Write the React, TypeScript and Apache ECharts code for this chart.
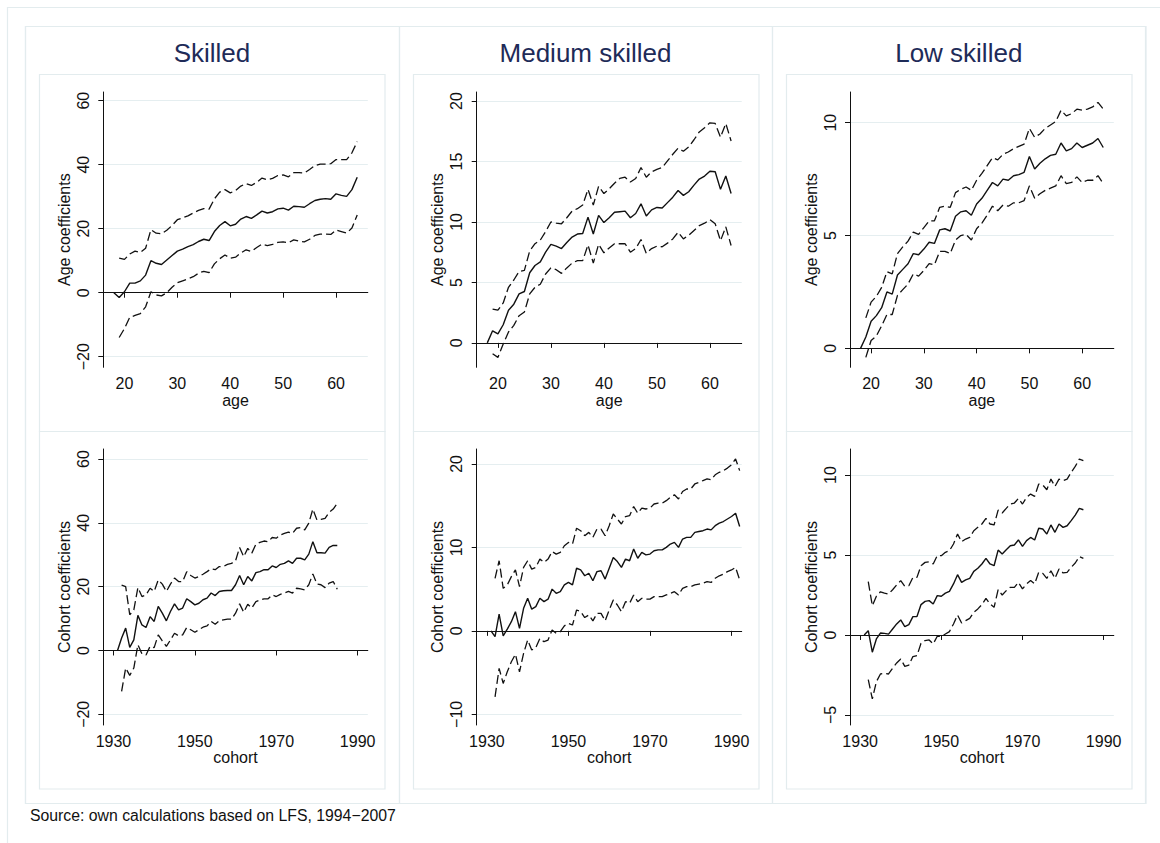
import React, { useEffect, useRef } from "react";
import * as echarts from "echarts";

// ---------- x values ----------
const AGES = [18, 19, 20, 21, 22, 23, 24, 25, 26, 27, 28, 29, 30, 31, 32, 33, 34, 35, 36, 37, 38, 39, 40, 41, 42, 43, 44, 45, 46, 47, 48, 49, 50, 51, 52, 53, 54, 55, 56, 57, 58, 59, 60, 61, 62, 63, 64];
const COHORTS = [1931, 1932, 1933, 1934, 1935, 1936, 1937, 1938, 1939, 1940, 1941, 1942, 1943, 1944, 1945, 1946, 1947, 1948, 1949, 1950, 1951, 1952, 1953, 1954, 1955, 1956, 1957, 1958, 1959, 1960, 1961, 1962, 1963, 1964, 1965, 1966, 1967, 1968, 1969, 1970, 1971, 1972, 1973, 1974, 1975, 1976, 1977, 1978, 1979, 1980, 1981, 1982, 1983, 1984, 1985, 1986, 1987, 1988, 1989, 1990, 1991, 1992];

// ---------- tick labels ----------
const AGE_TICKS = [20, 30, 40, 50, 60];
const COHORT_TICKS = [1930, 1950, 1970, 1990];
const SK_AGE_YTICKS = [-20, 0, 20, 40, 60];
const MD_AGE_YTICKS = [0, 5, 10, 15, 20];
const LW_AGE_YTICKS = [0, 5, 10];
const SK_COH_YTICKS = [-20, 0, 20, 40, 60];
const MD_COH_YTICKS = [-10, 0, 10, 20];
const LW_COH_YTICKS = [-5, 0, 5, 10];

// ---------- titles ----------
const COLUMN_TITLES = ["Skilled", "Medium skilled", "Low skilled"];
const SOURCE_NOTE = "Source: own calculations based on LFS, 1994\u22122007";

// ---------- Skilled, age (18..64); CI bands start at 19 ----------
const SK_AGE = [0, -1.5, 0.3, 3, 3, 3.7, 5.5, 10, 9.2, 8.8, 10.2, 11.6, 13, 13.6, 14.4, 15, 16, 16.7, 16.3, 19.1, 21, 22.2, 20.9, 21.4, 23, 23.8, 23.2, 24.3, 25.5, 24.9, 25.3, 26.2, 26.4, 25.8, 27, 26.9, 26.7, 27.8, 28.8, 29.2, 29.4, 29.2, 30.9, 30.4, 30.1, 32.2, 36.1];
const SK_AGE_HI = [10.8, 10.4, 12.1, 13, 12.6, 13.9, 19.7, 18.6, 18.4, 19.5, 21, 22.8, 23.4, 24, 24.9, 25.7, 26.3, 26.1, 29.3, 31.4, 32.2, 31.2, 31.9, 33.3, 34.1, 33.5, 34.5, 35.8, 35.3, 35.7, 36.6, 36.8, 36.2, 37.5, 37.5, 37.4, 38.5, 39.7, 40.2, 40.2, 40.3, 41.6, 41.6, 41.6, 43.7, 47.2];
const SK_AGE_LO = [-14, -11.2, -7.7, -7.1, -6.5, -4.4, 0.3, -0.7, -1, 0, 1.7, 3.1, 3.7, 4.3, 5, 6.1, 6.7, 6.3, 9, 10.6, 11.8, 10.8, 11.1, 12.4, 13.4, 12.9, 14.1, 15.2, 14.7, 15.1, 15.7, 15.9, 15.6, 16.5, 16.1, 15.9, 16.7, 17.9, 18.3, 18.3, 18.2, 19.6, 19.1, 18.6, 20.2, 24.3];

// ---------- Medium skilled, age ----------
const MD_AGE = [0, 1.0, 0.75, 1.5, 2.7, 3.2, 4.05, 4.25, 5.8, 6.4, 6.7, 7.5, 8.15, 8.0, 7.8, 8.3, 8.75, 9.0, 9.05, 10.4, 9.0, 10.55, 9.95, 10.35, 10.8, 10.85, 10.9, 10.35, 10.7, 11.5, 10.5, 11.0, 11.2, 11.15, 11.6, 12.05, 12.6, 12.2, 12.5, 13.05, 13.55, 13.8, 14.2, 14.15, 12.7, 13.8, 12.35];
const MD_AGE_HI = [2.8, 2.7, 3.3, 4.6, 5.2, 5.9, 6.0, 7.6, 8.2, 8.5, 9.2, 10.0, 9.9, 9.85, 10.35, 10.9, 11.1, 11.4, 12.7, 11.4, 12.95, 12.35, 12.75, 13.2, 13.6, 13.7, 13.3, 13.6, 14.5, 13.7, 14.15, 14.35, 14.5, 15.05, 15.6, 16.1, 15.85, 16.2, 16.8, 17.45, 17.8, 18.2, 18.15, 17.0, 18.15, 16.7];
const MD_AGE_LO = [-0.9, -1.2, -0.1, 0.9, 1.45, 2.25, 2.55, 4.05, 4.6, 4.85, 5.7, 6.2, 6.05, 5.75, 6.2, 6.6, 6.8, 6.8, 8.1, 6.6, 8.15, 7.45, 7.85, 8.2, 8.2, 8.2, 7.5, 7.8, 8.55, 7.4, 7.8, 8.0, 7.95, 8.25, 8.6, 9.15, 8.6, 8.9, 9.3, 9.7, 9.9, 10.2, 9.85, 8.45, 9.6, 8.05];

// ---------- Low skilled, age ----------
const LW_AGE = [0, 0.5, 1.2, 1.45, 1.8, 2.5, 2.4, 3.25, 3.5, 3.75, 4.2, 4.15, 4.4, 4.7, 4.65, 5.25, 5.3, 5.2, 5.85, 6.05, 6.1, 5.9, 6.4, 6.65, 7.0, 7.35, 7.2, 7.5, 7.45, 7.65, 7.7, 7.8, 8.5, 7.95, 8.2, 8.4, 8.55, 8.6, 9.1, 8.75, 8.85, 9.1, 8.9, 9.0, 9.1, 9.3, 8.9];
const LW_AGE_HI = [1.35, 2.05, 2.3, 2.7, 3.4, 3.3, 4.2, 4.5, 4.75, 5.15, 5.05, 5.35, 5.65, 5.65, 6.25, 6.3, 6.25, 6.9, 7.05, 7.15, 7.0, 7.45, 7.75, 8.1, 8.45, 8.35, 8.6, 8.7, 8.85, 8.95, 9.05, 9.75, 9.35, 9.5, 9.75, 9.9, 10.05, 10.55, 10.3, 10.4, 10.6, 10.55, 10.6, 10.7, 10.9, 10.6];
const LW_AGE_LO = [-0.4, 0.35, 0.55, 1.0, 1.5, 1.5, 2.35, 2.6, 2.85, 3.3, 3.2, 3.45, 3.75, 3.7, 4.3, 4.3, 4.2, 4.8, 5.0, 5.05, 4.8, 5.3, 5.55, 5.9, 6.3, 6.1, 6.35, 6.3, 6.45, 6.45, 6.55, 7.2, 6.65, 6.85, 7.0, 7.1, 7.2, 7.65, 7.3, 7.35, 7.6, 7.35, 7.45, 7.45, 7.65, 7.3];

// ---------- Skilled, cohort (1931..1985); CI bands start at 1932 ----------
const SK_COH = [0, 3.9, 7, 1, 3.3, 11, 8, 7.2, 10.6, 9.1, 13.8, 11.7, 9.3, 12.2, 14.6, 12.7, 13.3, 16.2, 15.3, 14.3, 14.8, 15.9, 16.4, 18, 17.2, 18.5, 18.7, 18.8, 18.8, 20.6, 23.5, 20.6, 23.2, 21.8, 24.4, 24.7, 25.3, 25.3, 26.5, 26, 27, 27.3, 28.1, 27.3, 28.9, 28.9, 28.4, 30.2, 34.1, 30.6, 30.6, 30.5, 32.3, 32.9, 32.9];
const SK_COH_HI = [20.5, 20, 11.2, 12.7, 19.7, 16.9, 17.4, 19.5, 18.5, 22.1, 20.8, 18.5, 20.8, 22.7, 21.6, 21.6, 24.7, 23.5, 22.7, 23.2, 23.9, 24.7, 25.6, 25.3, 26.3, 26.3, 27, 27.3, 28.1, 32.3, 29.4, 32, 30.5, 33.3, 33.9, 34.3, 34.1, 35.4, 35.2, 36.2, 36.7, 37.1, 36.7, 38.3, 38.5, 37.8, 39.9, 44.3, 40.9, 41.1, 41.4, 43.3, 44.3, 46.1];
const SK_COH_LO = [-12.8, -5.5, -7.8, -5.5, 1.8, -1.1, -1.4, 1.3, 0.9, 4.9, 3, 1.3, 3.3, 5.4, 4.6, 4.9, 7.2, 6.5, 5.7, 6.5, 7.3, 7.7, 9.1, 8.2, 9.3, 9.6, 9.8, 9.8, 11.7, 14.6, 12, 14.5, 13.3, 15.3, 15.8, 16.2, 16.2, 17.4, 16.9, 17.6, 18, 18.5, 18, 19.5, 19.3, 19, 20.6, 24, 20.8, 20.6, 19.7, 21.1, 21.6, 19.2];

// ---------- Medium skilled, cohort (1931..1992) ----------
const MD_COH = [0, -0.7, 2.0, -0.6, 0.2, 1.1, 2.3, 0.3, 2.7, 3.9, 2.6, 2.9, 3.9, 3.5, 3.8, 5.0, 4.5, 4.7, 5.5, 5.8, 5.5, 7.5, 7.3, 6.6, 6.9, 6.0, 7.1, 7.2, 6.2, 7.5, 8.8, 8.3, 7.6, 8.6, 8.4, 9.8, 8.7, 9.4, 9.1, 9.2, 9.6, 9.7, 9.7, 10.0, 10.4, 10.6, 10.0, 11.0, 11.2, 11.2, 11.8, 11.9, 12.0, 12.2, 12.1, 12.6, 12.9, 13.1, 13.4, 13.7, 14.1, 12.5];
const MD_COH_HI = [6.3, 8.4, 5.1, 5.5, 6.5, 7.3, 5.3, 7.6, 8.4, 7.4, 7.6, 8.6, 8.2, 8.6, 9.5, 9.2, 9.4, 10.2, 10.6, 10.4, 12.3, 12.0, 11.4, 11.8, 11.2, 12.2, 12.2, 11.4, 12.6, 14.0, 13.4, 12.8, 13.7, 13.8, 14.9, 14.1, 14.7, 14.6, 14.7, 15.2, 15.3, 15.3, 15.6, 16.0, 16.3, 15.8, 16.7, 17.0, 17.0, 17.6, 17.8, 18.0, 18.2, 18.1, 18.7, 19.0, 19.2, 19.5, 19.9, 20.6, 19.2];
const MD_COH_LO = [-7.9, -4.5, -6.3, -4.9, -3.7, -2.8, -4.9, -2.7, -1.1, -2.3, -2.0, -0.9, -1.3, -1.1, 0.1, -0.3, -0.1, 0.6, 0.9, 0.7, 2.5, 2.3, 1.6, 1.9, 1.2, 2.1, 2.1, 1.2, 2.5, 3.7, 3.1, 2.3, 3.5, 3.3, 4.3, 3.5, 3.9, 3.8, 3.8, 4.1, 4.1, 4.1, 4.3, 4.5, 4.7, 4.3, 5.1, 5.3, 5.3, 5.5, 5.6, 5.7, 5.9, 5.8, 6.3, 6.6, 6.8, 7.1, 7.3, 7.6, 6.1];

// ---------- Low skilled, cohort (1931..1985) ----------
const LW_COH = [0, 0.27, -1.08, -0.25, 0.12, 0.1, 0.05, 0.37, 0.69, 0.94, 0.52, 0.65, 1.15, 1.15, 1.9, 2.1, 2.15, 1.94, 2.46, 2.42, 2.62, 2.73, 3.19, 3.77, 3.29, 3.44, 3.54, 3.98, 4.17, 4.44, 4.79, 4.44, 4.33, 5.31, 5.06, 5.33, 5.58, 5.63, 5.94, 5.54, 5.9, 6.1, 5.94, 6.67, 6.63, 6.31, 6.88, 6.42, 6.94, 6.73, 6.83, 7.15, 7.5, 7.92, 7.83];
const LW_COH_HI = [3.33, 1.83, 2.42, 2.7, 2.62, 2.56, 2.83, 3.13, 3.4, 3.04, 3.08, 3.6, 3.6, 4.33, 4.54, 4.58, 4.44, 4.96, 4.96, 5.17, 5.27, 5.69, 6.31, 5.83, 6.0, 6.1, 6.52, 6.73, 6.94, 7.29, 6.94, 6.88, 7.81, 7.63, 7.92, 8.19, 8.25, 8.54, 8.19, 8.6, 8.81, 8.67, 9.44, 9.38, 9.08, 9.75, 9.29, 9.75, 9.65, 9.75, 10.17, 10.54, 11.0, 10.9];
const LW_COH_LO = [-2.79, -4.0, -2.92, -2.44, -2.4, -2.44, -2.08, -1.75, -1.5, -1.96, -1.88, -1.35, -1.29, -0.52, -0.35, -0.31, -0.56, -0.08, -0.1, 0.06, 0.21, 0.69, 1.25, 0.75, 0.9, 1.04, 1.42, 1.63, 1.9, 2.29, 1.94, 1.73, 2.83, 2.5, 2.77, 2.98, 2.98, 3.29, 2.88, 3.19, 3.4, 3.19, 3.92, 3.85, 3.54, 4.02, 3.54, 4.13, 3.88, 3.92, 4.23, 4.5, 4.9, 4.79];

// ---------- styling / layout ----------
const FONT = '"Liberation Sans", Arial, Helvetica, sans-serif';
const FRAME = "#e3ecee";
const GRIDLINE = "#e5eef0";
const INK = "#111111";
const TITLE_COLOR = "#1e2b58";

const COL_X = [25, 399, 772];
const COL_W = [374, 373, 373.5];
const GRID_LEFT = [103.3, 476.7, 850];
const GRID_WIDTH = [264.5, 265, 263.8];
const GRID_TOP = [92, 449];
const GRID_HEIGHT = [275.3, 276];

type Panel = {
  col: number;
  row: number;
  x: number[];
  mid: number[];
  hi: number[];
  lo: number[];
  xTicks: number[];
  yTicks: number[];
  xMin: number;
  xMax: number;
  yMin: number;
  yMax: number;
  xName: string;
  yName: string;
};

const PANELS: Panel[] = [
  { col: 0, row: 0, x: AGES, mid: SK_AGE, hi: SK_AGE_HI, lo: SK_AGE_LO, xTicks: AGE_TICKS, yTicks: SK_AGE_YTICKS, xMin: 16, xMax: 66, yMin: -23.3, yMax: 62.7, xName: "age", yName: "Age coefficients" },
  { col: 1, row: 0, x: AGES, mid: MD_AGE, hi: MD_AGE_HI, lo: MD_AGE_LO, xTicks: AGE_TICKS, yTicks: MD_AGE_YTICKS, xMin: 16, xMax: 66, yMin: -2.02, yMax: 20.75, xName: "age", yName: "Age coefficients" },
  { col: 2, row: 0, x: AGES, mid: LW_AGE, hi: LW_AGE_HI, lo: LW_AGE_LO, xTicks: AGE_TICKS, yTicks: LW_AGE_YTICKS, xMin: 16, xMax: 66, yMin: -0.84, yMax: 11.36, xName: "age", yName: "Age coefficients" },
  { col: 0, row: 1, x: COHORTS, mid: SK_COH, hi: SK_COH_HI, lo: SK_COH_LO, xTicks: COHORT_TICKS, yTicks: SK_COH_YTICKS, xMin: 1927.5, xMax: 1992.5, yMin: -23.35, yMax: 63.13, xName: "cohort", yName: "Cohort coefficients" },
  { col: 1, row: 1, x: COHORTS, mid: MD_COH, hi: MD_COH_HI, lo: MD_COH_LO, xTicks: COHORT_TICKS, yTicks: MD_COH_YTICKS, xMin: 1927.5, xMax: 1992.5, yMin: -11.28, yMax: 21.79, xName: "cohort", yName: "Cohort coefficients" },
  { col: 2, row: 1, x: COHORTS, mid: LW_COH, hi: LW_COH_HI, lo: LW_COH_LO, xTicks: COHORT_TICKS, yTicks: LW_COH_YTICKS, xMin: 1927.5, xMax: 1992.5, yMin: -5.63, yMax: 11.63, xName: "cohort", yName: "Cohort coefficients" },
];

const fmtNum = (v: number) => (v < 0 ? "\u2212" + Math.abs(v) : String(v));

function buildOption() {
  const grid: any[] = [];
  const xAxis: any[] = [];
  const yAxis: any[] = [];
  const series: any[] = [];

  PANELS.forEach((p, i) => {
    grid.push({
      left: GRID_LEFT[p.col],
      top: GRID_TOP[p.row],
      width: GRID_WIDTH[p.col],
      height: GRID_HEIGHT[p.row],
      containLabel: false,
    });
    xAxis.push({
      type: "value",
      gridIndex: i,
      min: p.xMin,
      max: p.xMax,
      name: p.xName,
      nameLocation: "middle",
      nameGap: 23,
      nameTextStyle: { fontFamily: FONT, fontSize: 16, color: INK },
      axisLine: { show: true, lineStyle: { color: INK, width: 1 } },
      axisTick: { show: true, length: 5, customValues: p.xTicks, lineStyle: { color: INK, width: 1 } },
      axisLabel: { customValues: p.xTicks, margin: 8, fontFamily: FONT, fontSize: 16, color: INK, formatter: (v: number) => fmtNum(v) },
      splitLine: { show: false },
    });
    yAxis.push({
      type: "value",
      gridIndex: i,
      min: p.yMin,
      max: p.yMax,
      name: p.yName,
      nameLocation: "middle",
      nameGap: 31,
      nameRotate: 90,
      nameTextStyle: { fontFamily: FONT, fontSize: 16, color: INK },
      axisLine: { show: true, lineStyle: { color: INK, width: 1 } },
      axisTick: { show: true, length: 5, customValues: p.yTicks, lineStyle: { color: INK, width: 1 } },
      axisLabel: { customValues: p.yTicks, rotate: 90, margin: 12, fontFamily: FONT, fontSize: 16, color: INK, formatter: (v: number) => fmtNum(v) },
      splitLine: { show: true, lineStyle: { color: GRIDLINE, width: 1.2 } },
    });
    series.push({
      type: "line",
      xAxisIndex: i,
      yAxisIndex: i,
      data: p.mid.map((v, k) => [p.x[k], v]),
      symbol: "none",
      silent: true,
      lineStyle: { color: INK, width: 1.4 },
      z: 3,
    });
    series.push({
      type: "line",
      xAxisIndex: i,
      yAxisIndex: i,
      data: p.hi.map((v, k) => [p.x[k + 1], v]),
      symbol: "none",
      silent: true,
      lineStyle: { color: INK, width: 1.3, type: [9, 4] },
      z: 3,
    });
    series.push({
      type: "line",
      xAxisIndex: i,
      yAxisIndex: i,
      data: p.lo.map((v, k) => [p.x[k + 1], v]),
      symbol: "none",
      silent: true,
      lineStyle: { color: INK, width: 1.3, type: [9, 4] },
      z: 3,
    });
  });

  const frameStyle = { fill: "none", stroke: FRAME, lineWidth: 1.2 };
  const graphic: any[] = [
    { type: "rect", silent: true, shape: { x: 7.5, y: 7.5, width: 1200, height: 900 }, style: frameStyle },
    { type: "rect", silent: true, shape: { x: 25.5, y: 26.5, width: 1120, height: 777 }, style: frameStyle },
  ];
  COL_X.forEach((cx, c) => {
    graphic.push({ type: "rect", silent: true, shape: { x: cx + 0.5, y: 26.5, width: COL_W[c], height: 777 }, style: frameStyle });
    graphic.push({ type: "rect", silent: true, shape: { x: cx + 14.5, y: 74.5, width: 345.5, height: 357 }, style: frameStyle });
    graphic.push({ type: "rect", silent: true, shape: { x: cx + 14.5, y: 431.5, width: 345.5, height: 357.5 }, style: frameStyle });
    graphic.push({
      type: "text",
      silent: true,
      x: cx + COL_W[c] / 2,
      y: 53,
      style: { text: COLUMN_TITLES[c], fontFamily: FONT, fontSize: 26, fill: TITLE_COLOR, align: "center", verticalAlign: "middle" },
    });
  });
  graphic.push({
    type: "text",
    silent: true,
    x: 30,
    y: 815,
    style: { text: SOURCE_NOTE, fontFamily: FONT, fontSize: 15.8, fill: INK, align: "left", verticalAlign: "middle" },
  });

  return {
    animation: false,
    backgroundColor: "#ffffff",
    grid,
    xAxis,
    yAxis,
    series,
    graphic,
  };
}

export default function App() {
  const ref = useRef<HTMLDivElement>(null);
  useEffect(() => {
    if (!ref.current) return;
    const chart = echarts.init(ref.current, null, { renderer: "svg" });
    chart.setOption(buildOption() as any);
    return () => chart.dispose();
  }, []);
  return (
    <div
      ref={ref}
      style={{ position: "absolute", left: 0, top: 0, width: 1160, height: 843, background: "#fff" }}
    />
  );
}
